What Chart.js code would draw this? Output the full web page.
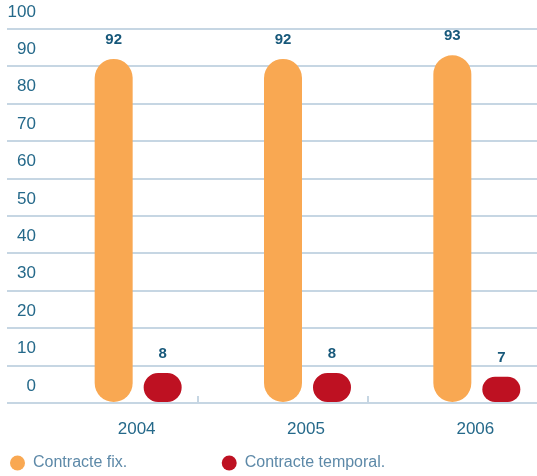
<!DOCTYPE html>
<html>
<head>
<meta charset="utf-8">
<script src="https://cdn.jsdelivr.net/npm/chart.js@4/dist/chart.umd.min.js"></script>
<style>
  html, body { margin: 0; padding: 0; background: #ffffff; }
  #wrap { position: relative; width: 537px; height: 476px; }
</style>
</head>
<body>
<div id="wrap"><canvas id="c"></canvas></div>
<script>
// ---- data ----
const categories = ['2004', '2005', '2006'];
const fixLabel = 'Contracte fix.';
const tempLabel = 'Contracte temporal.';
const fixValues = [92, 92, 93];
const tempValues = [8, 8, 7];
const yMin = 0;
const yMax = 100;
const yStep = 10;

// ---- styles ----
const FONT = '"Liberation Sans", Arial, sans-serif';
const GRID = '#c6d6e3';
const TICK_TXT = '#25698a';
const VAL_TXT = '#17587a';
const LEG_TXT = '#5d89a8';
const ORANGE = '#f9a852';
const RED = '#be1122';

const valueLabels = {
  id: 'valueLabels',
  afterDatasetsDraw(chart) {
    const ctx = chart.ctx;
    ctx.save();
    ctx.font = 'bold 15px ' + FONT;
    ctx.fillStyle = VAL_TXT;
    ctx.textAlign = 'center';
    ctx.textBaseline = 'middle';
    chart.data.datasets.forEach((ds, i) => {
      if (!ds.showValues) return;
      chart.getDatasetMeta(i).data.forEach((el, j) => {
        ctx.fillText(String(ds.data[j]), el.x, el.y - 19);
      });
    });
    ctx.restore();
  }
};

const innerTick = (c) => (c.index === 1 || c.index === 2) ? GRID : 'rgba(0,0,0,0)';

new Chart(document.getElementById('c'), {
  type: 'bar',
  data: {
    labels: categories,
    datasets: [
      { label: '', data: [], backgroundColor: 'rgba(0,0,0,0)', spacer: true },
      { label: fixLabel, data: fixValues, backgroundColor: ORANGE, showValues: true },
      { label: tempLabel, data: tempValues, backgroundColor: RED, showValues: true }
    ]
  },
  options: {
    responsive: true,
    maintainAspectRatio: false,
    animation: false,
    categoryPercentage: 0.868,
    barPercentage: 0.7755,
    borderRadius: 19,
    borderSkipped: false,
    layout: { padding: { top: 29, bottom: -5, left: 0, right: 0 } },
    scales: {
      x: {
        offset: true,
        border: { display: false },
        grid: {
          offset: true,
          drawOnChartArea: false,
          drawTicks: true,
          tickLength: -7,
          lineWidth: 2,
          color: innerTick,
          tickColor: innerTick
        },
        ticks: {
          font: { family: FONT, size: 17 },
          color: TICK_TXT,
          labelOffset: 23,
          padding: 23,
          maxRotation: 0
        },
        afterFit: (a) => { a.height = 42; }
      },
      y: {
        min: yMin,
        max: yMax,
        border: { display: false },
        grid: {
          color: GRID,
          lineWidth: 2,
          drawTicks: true,
          tickLength: 22
        },
        ticks: {
          stepSize: yStep,
          mirror: true,
          crossAlign: 'far',
          padding: -21.4,
          labelOffset: -17,
          font: { family: FONT, size: 17 },
          color: TICK_TXT
        },
        afterFit: (a) => { a.width = 29; }
      }
    },
    plugins: {
      tooltip: { enabled: false },
      legend: {
        position: 'bottom',
        align: 'start',
        labels: {
          boxWidth: 15,
          boxHeight: 15,
          useBorderRadius: true,
          borderRadius: 7.5,
          padding: 10,
          color: LEG_TXT,
          font: { family: FONT, size: 16 },
          filter: (item, data) => !data.datasets[item.datasetIndex].spacer,
          generateLabels: (chart) => {
            const items = Chart.defaults.plugins.legend.labels.generateLabels(chart);
            items.forEach(it => {
              it.lineWidth = 0;
              it.strokeStyle = 'rgba(0,0,0,0)';
              if (it.datasetIndex === 1) it.text = it.text + '                   ';
            });
            return items;
          }
        }
      }
    }
  },
  plugins: [valueLabels]
});
</script>
</body>
</html>
